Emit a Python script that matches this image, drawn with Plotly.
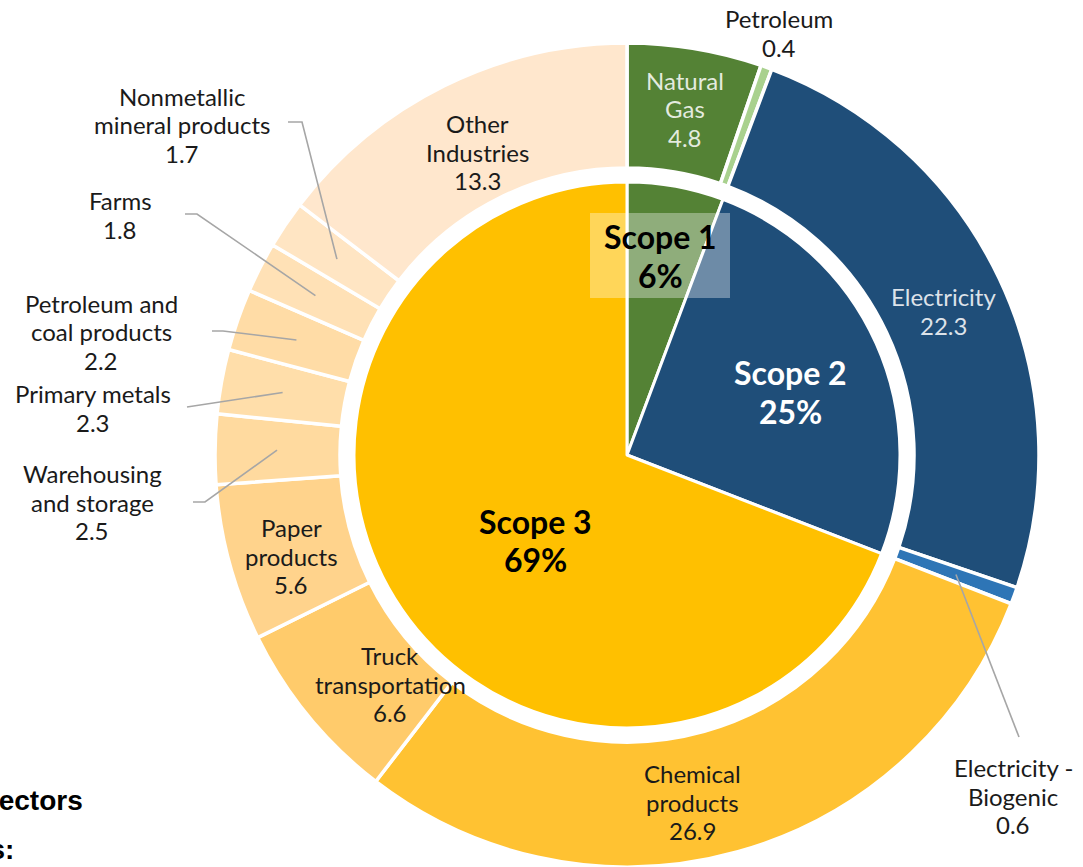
import math
import plotly.graph_objects as go

# ---------------- data ----------------
outer_labels = ["Natural Gas", "Petroleum", "Electricity", "Electricity - Biogenic",
                "Chemical products", "Truck transportation", "Paper products",
                "Warehousing and storage", "Primary metals", "Petroleum and coal products",
                "Farms", "Nonmetallic mineral products", "Other Industries"]
outer_values = [4.8, 0.4, 22.3, 0.6, 26.9, 6.6, 5.6, 2.5, 2.3, 2.2, 1.8, 1.7, 13.3]
outer_text = [["Natural", "Gas"], ["Petroleum"], ["Electricity"], ["Electricity -", "Biogenic"],
              ["Chemical", "products"], ["Truck", "transportation"], ["Paper", "products"],
              ["Warehousing", "and storage"], ["Primary metals"], ["Petroleum and", "coal products"],
              ["Farms"], ["Nonmetallic", "mineral products"], ["Other", "Industries"]]
scope_labels = ["Scope 1", "Scope 2", "Scope 3"]
scope_values = [5.2, 22.9, 62.9]

# ---------------- styles ----------------
outer_colors = ["#548235", "#A9D18E", "#1F4E79", "#2E75B6",
                "#FFC232", "#FFCB6B", "#FFD38C", "#FFDA9F", "#FFDEAA",
                "#FFDCA6", "#FFE1B6", "#FFE5C3", "#FFE7CD"]
scope_colors = ["#548235", "#1F4E79", "#FFC000"]

W, H = 1083, 867
CX, CY = 627, 455          # pie centre in pixels (from top-left)
R_OUT, R_IN = 412, 273
HOLE = 287 / 412


def px(x):
    return x / W


def py(y):
    return (H - y) / H


fig = go.Figure()
fig.add_trace(go.Pie(
    labels=outer_labels, values=outer_values, sort=False, direction="clockwise",
    rotation=0, hole=HOLE, textinfo="none", hoverinfo="label+value",
    marker=dict(colors=outer_colors, line=dict(color="white", width=3.5)),
    domain=dict(x=[px(CX - R_OUT), px(CX + R_OUT)], y=[py(CY + R_OUT), py(CY - R_OUT)]),
    showlegend=False,
))
fig.add_trace(go.Pie(
    labels=scope_labels, values=scope_values, sort=False, direction="clockwise",
    rotation=0, textinfo="none", hoverinfo="label+percent",
    marker=dict(colors=scope_colors, line=dict(color="white", width=3)),
    domain=dict(x=[px(CX - R_IN), px(CX + R_IN)], y=[py(CY + R_IN), py(CY - R_IN)]),
    showlegend=False,
))

FONT = "Lato"
DARK = "#1a1a1a"
LIGHT = "rgba(255,255,255,0.85)"
LINE_GAP = 28.6

# label placement (pixel centres of the text blocks) -- layout only
label_pos = {
    "Natural Gas": (685, 109, LIGHT),
    "Petroleum": (779, 33, DARK),
    "Electricity": (943, 311, LIGHT),
    "Electricity - Biogenic": (1013, 796, DARK),
    "Chemical products": (692, 802, DARK),
    "Truck transportation": (390, 684, DARK),
    "Paper products": (291, 556, DARK),
    "Warehousing and storage": (92, 502, DARK),
    "Primary metals": (93, 408, DARK),
    "Petroleum and coal products": (101, 332, DARK),
    "Farms": (120, 215, DARK),
    "Nonmetallic mineral products": (182, 125, DARK),
    "Other Industries": (477, 152, DARK),
}


def text_block(lines, cx, cy, size, color, gap, bold=False):
    out = []
    n = len(lines)
    for i, ln in enumerate(lines):
        y = cy + (i - (n - 1) / 2) * gap
        out.append(dict(
            x=px(cx), y=py(y), xref="paper", yref="paper", showarrow=False,
            text=f"<b>{ln}</b>" if bold else ln, xanchor="center", yanchor="middle",
            font=dict(family=FONT, size=size, color=color),
        ))
    return out


annotations = []
for lab, lines, val in zip(outer_labels, outer_text, outer_values):
    x, y, col = label_pos[lab]
    annotations += text_block(lines + [f"{val}"], x, y, 24, col, LINE_GAP)

# leader lines: from label elbow to the middle of the slice
total = sum(outer_values)
cum = 0
mid_angle = {}
for lab, v in zip(outer_labels, outer_values):
    mid_angle[lab] = (cum + v / 2) / total * 360
    cum += v

leaders = {
    "Nonmetallic mineral products": [(288, 122), (302, 122)],
    "Farms": [(185, 214), (197, 214)],
    "Petroleum and coal products": [(212, 331), (223, 331)],
    "Primary metals": [(187, 407)],
    "Warehousing and storage": [(193, 502), (205, 502)],
    "Electricity - Biogenic": [(1019, 737)],
}
shapes = []
for lab, pts in leaders.items():
    a = math.radians(mid_angle[lab])
    rx = CX + 350 * math.sin(a)
    ry = CY - 350 * math.cos(a)
    allpts = pts + [(rx, ry)]
    path = "M " + " L ".join(f"{px(x):.5f},{py(y):.5f}" for x, y in allpts)
    shapes.append(dict(type="path", path=path, xref="paper", yref="paper",
                       line=dict(color="#A6A6A6", width=1.6)))

# translucent box behind the Scope 1 label
shapes.append(dict(type="rect", xref="paper", yref="paper", layer="above",
                   x0=px(590), x1=px(730), y0=py(298), y1=py(213),
                   fillcolor="rgba(255,255,255,0.35)", line=dict(width=0)))

# scope labels
pct = [round(v / sum(scope_values) * 100) for v in scope_values]
scope_pos = [(660, 256, "black"), (790, 392, "white"), (535, 540, "black")]
for lab, p, (x, y, col) in zip(scope_labels, pct, scope_pos):
    annotations += text_block([lab, f"{p}%"], x, y, 32, col, 38, bold=True)

# clipped title fragments at bottom-left
annotations.append(dict(x=px(85), y=py(800), xref="paper", yref="paper", showarrow=False,
                        text="<b>Top Sectors</b>", xanchor="right", yanchor="middle",
                        font=dict(family="Liberation Sans", size=28, color="black")))
annotations.append(dict(x=px(16), y=py(849), xref="paper", yref="paper", showarrow=False,
                        text="<b>Emissions:</b>", xanchor="right", yanchor="middle",
                        font=dict(family="Liberation Sans", size=28, color="black")))

fig.update_layout(
    width=W, height=H, margin=dict(l=0, r=0, t=0, b=0),
    paper_bgcolor="white", plot_bgcolor="white",
    annotations=annotations, shapes=shapes,
)
fig.write_html("out.html", config={"displayModeBar": False},
               post_script="document.body.style.margin='0px';")
